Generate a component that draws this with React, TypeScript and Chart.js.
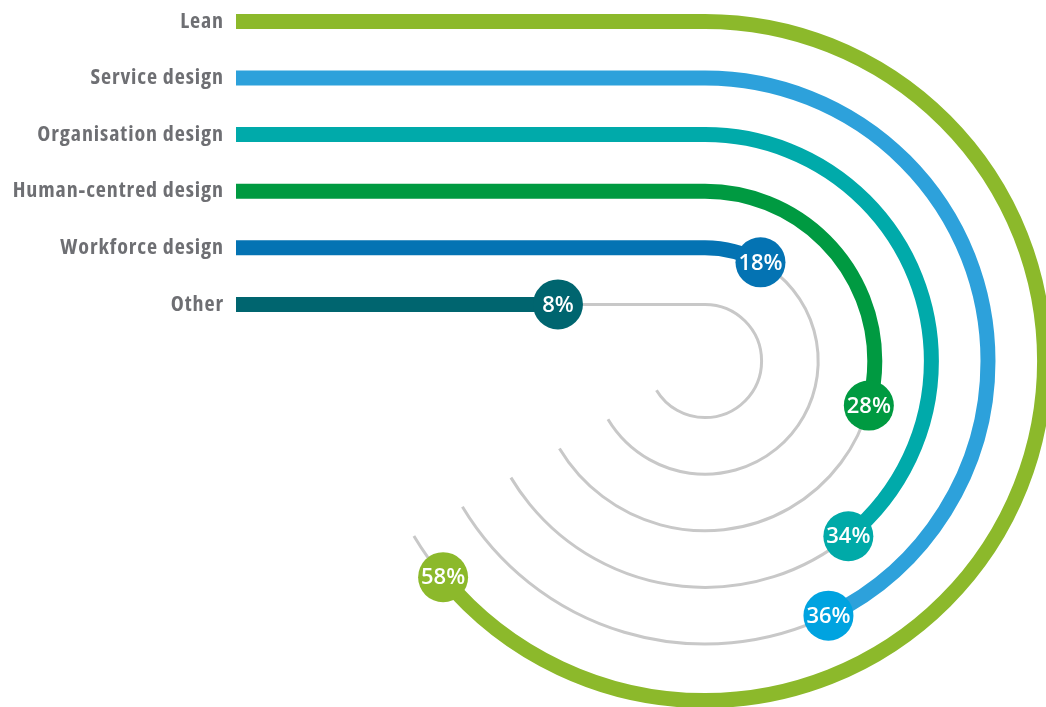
import React, { useEffect, useRef } from 'react';
import { Chart, registerables } from 'chart.js';
Chart.register(...registerables);

// ---- data ----
const CATEGORIES = ['Lean', 'Service design', 'Organisation design', 'Human-centred design', 'Workforce design', 'Other'];
const VALUES = [58, 36, 34, 28, 18, 8];
const VALUE_LABELS = ['58%', '36%', '34%', '28%', '18%', '8%'];
const LINE_COLORS = ['#8CB92B', '#2DA1DB', '#00AAAA', '#009A41', '#0473B3', '#00656F'];
const MARKER_COLORS = ['#8CB92B', '#00A3E0', '#00AAA8', '#009A41', '#0473B3', '#00656F'];

// value scale of every track (start of the line .. end of the grey arc)
const TRACK_MIN = -36.2;
const TRACK_MAX = 60.6;

// ---- layout constants (scale units) ----
const Y_MIN = -6.113;
const Y_MAX = 6.378;
const X_MAX = 14.311;
const CENTER_X = 8.286;
const ARC_SWEEP_DEG = 239;
const TRACK_COLOR = '#C8C8C8';
const LABEL_COLOR = '#6E6F73';

const spacingPlugin = {
  id: 'labelSpacing',
  beforeDraw(chart: any) {
    (chart.ctx as any).letterSpacing = '0.9px';
  },
};

const trackPlugin = {
  id: 'arcTracks',
  afterDraw(chart: any) {
    const { ctx } = chart;
    (ctx as any).letterSpacing = '0px';
    const xs = chart.scales.x;
    const ys = chart.scales.y;
    const ts = chart.scales.track;
    const x0 = xs.getPixelForValue(0);
    const cx = xs.getPixelForValue(CENTER_X);
    const cy = ys.getPixelForValue(0);
    const sweep = (ARC_SWEEP_DEG * Math.PI) / 180;
    const straight = cx - x0;
    const ends: { px: number; py: number; i: number }[] = [];
    const n = CATEGORIES.length;
    CATEGORIES.forEach((_c, i) => {
      const y = ys.getPixelForValue(n - i);
      const r = cy - y;
      const total = straight + r * sweep;
      const frac = ts.getDecimalForPixel(ts.getPixelForValue(VALUES[i]));
      const dist = frac * total;
      let px: number, py: number, phi: number;
      if (dist <= straight) {
        px = x0 + dist; py = y; phi = 0;
      } else {
        phi = (dist - straight) / r;
        px = cx + r * Math.sin(phi);
        py = cy - r * Math.cos(phi);
      }
      ctx.save();
      ctx.lineCap = 'butt';
      // grey remainder
      ctx.lineWidth = 3;
      ctx.strokeStyle = TRACK_COLOR;
      ctx.beginPath();
      if (dist <= straight) {
        ctx.moveTo(px, y);
        ctx.lineTo(cx, y);
      }
      ctx.arc(cx, cy, r, -Math.PI / 2 + phi, -Math.PI / 2 + sweep, false);
      ctx.stroke();
      // coloured value
      ctx.lineWidth = 15;
      ctx.strokeStyle = LINE_COLORS[i];
      ctx.beginPath();
      ctx.moveTo(x0, y);
      if (dist <= straight) {
        ctx.lineTo(px, y);
      } else {
        ctx.lineTo(cx, y);
        ctx.arc(cx, cy, r, -Math.PI / 2, -Math.PI / 2 + phi, false);
      }
      ctx.stroke();
      ctx.restore();
      ends.push({ px, py, i });
    });
    ends.forEach(({ px, py, i }) => {
      ctx.save();
      ctx.fillStyle = MARKER_COLORS[i];
      ctx.beginPath();
      ctx.arc(px, py, 25, 0, Math.PI * 2);
      ctx.fill();
      ctx.fillStyle = '#FFFFFF';
      ctx.font = '600 22px "Open Sans", sans-serif';
      ctx.textAlign = 'center';
      ctx.textBaseline = 'middle';
      ctx.fillText(VALUE_LABELS[i], px, py + 1);
      ctx.restore();
    });
  },
};

export default function App() {
  const canvasRef = useRef<HTMLCanvasElement>(null);
  useEffect(() => {
    document.body.style.margin = '0';
    const chart = new Chart(canvasRef.current!, {
      type: 'scatter',
      data: { datasets: [] },
      plugins: [spacingPlugin, trackPlugin],
      options: {
        animation: false,
        responsive: false,
        layout: { padding: 0 },
        plugins: { legend: { display: false }, tooltip: { enabled: false } },
        scales: {
          x: { type: 'linear', display: false, min: 0, max: X_MAX },
          track: { type: 'linear', axis: 'x', display: false, min: TRACK_MIN, max: TRACK_MAX },
          y: {
            type: 'linear',
            position: 'left',
            min: Y_MIN,
            max: Y_MAX,
            grid: { display: false, drawTicks: false },
            border: { display: false },
            afterBuildTicks: (axis: any) => {
              axis.ticks = CATEGORIES.map((_c, i) => ({ value: CATEGORIES.length - i }));
            },
            afterFit: (axis: any) => {
              axis.width = 236;
              axis.paddingTop = 0;
              axis.paddingBottom = 0;
              axis.paddingLeft = 0;
              axis.paddingRight = 0;
            },
            ticks: {
              padding: 12,
              color: LABEL_COLOR,
              font: { family: '"Open Sans", sans-serif', weight: 'bold condensed', size: 22 },
              callback: (v: any) => {
                const idx = CATEGORIES.length - Number(v);
                return CATEGORIES[idx] ?? '';
              },
            },
          },
        },
      },
    } as any);
    return () => chart.destroy();
  }, []);
  return (
    <div style={{ position: 'relative', width: 1046, height: 707 }}>
      <canvas ref={canvasRef} width={1046} height={707} />
    </div>
  );
}
